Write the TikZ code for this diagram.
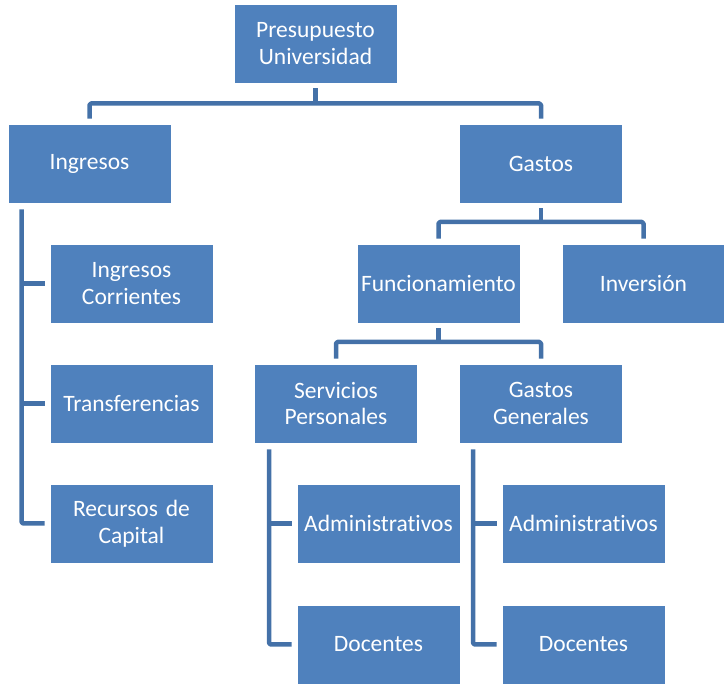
\documentclass[tikz,border=0pt]{standalone}
\usepackage{fontspec}
\setmainfont[Ligatures=NoCommon]{Carlito}
\begin{document}
\begin{tikzpicture}[x=1pt,y=-1pt,
  box/.style={rectangle,fill=boxblue,draw=white,line width=0.8pt,minimum width=163pt,minimum height=79pt,
    text width=160pt,align=center,inner sep=0pt,text=white,font=\fontsize{23.5}{26.5}\selectfont},
  conn/.style={draw=connblue,line width=4.5pt,line join=round,rounded corners=1.5pt}]
\definecolor{boxblue}{HTML}{4F81BD}
\definecolor{connblue}{HTML}{4471A8}
\useasboundingbox (0,0) rectangle (724,684);
\node[box] (P) at (315.5,43.5) {Presupuesto\\Universidad};
\node[box] (Ing) at (89.5,163.5) {Ingresos};
\node[box] (Gas) at (541,163.5) {Gastos};
\node[box] (IC) at (131.5,283.5) {Ingresos\\Corrientes};
\node[box] (Tr) at (131.5,403.5) {Transferencias};
\node[box] (RC) at (131.5,523.5) {Recursos de\\Capital};
\node[box] (Fu) at (438.5,283.5) {Funcionamiento};
\node[box] (In) at (643.5,283.5) {Inversión};
\node[box] (SP) at (336,403.5) {Servicios\\Personales};
\node[box] (GG) at (541,403.5) {Gastos\\Generales};
\node[box] (A1) at (378.5,523.5) {Administrativos};
\node[box] (D1) at (378.5,644.5) {Docentes};
\node[box] (A2) at (583.5,523.5) {Administrativos};
\node[box] (D2) at (583.5,644.5) {Docentes};
% top level
\draw[conn] ([yshift=-5pt]P.south) -- (P.south |- 0,103.5);
\draw[conn] ([yshift=5pt]Ing.north) -- (Ing.north |- 0,103.5) -| ([yshift=5pt]Gas.north);
% Gastos children
\draw[conn] ([yshift=-5pt]Gas.south) -- (Gas.south |- 0,222);
\draw[conn] ([yshift=5pt]Fu.north) -- (Fu.north |- 0,222) -| ([yshift=5pt]In.north);
% Funcionamiento children
\draw[conn] ([yshift=-5pt]Fu.south) -- (Fu.south |- 0,342);
\draw[conn] ([yshift=5pt]SP.north) -- (SP.north |- 0,342) -| ([yshift=5pt]GG.north);
% Ingresos rail
\coordinate (r1) at ([xshift=14pt,yshift=-6pt]Ing.south west);
\draw[conn] (r1) |- ([xshift=-5pt]RC.west);
\draw[conn] ([xshift=-5pt]IC.west) -- (IC.west -| r1);
\draw[conn] ([xshift=-5pt]Tr.west) -- (Tr.west -| r1);
% Servicios Personales rail
\coordinate (r2) at ([xshift=15pt,yshift=-6pt]SP.south west);
\draw[conn] (r2) |- ([xshift=-5pt]D1.west);
\draw[conn] ([xshift=-5pt]A1.west) -- (A1.west -| r2);
% Gastos Generales rail
\coordinate (r3) at ([xshift=14pt,yshift=-6pt]GG.south west);
\draw[conn] (r3) |- ([xshift=-5pt]D2.west);
\draw[conn] ([xshift=-5pt]A2.west) -- (A2.west -| r3);
\end{tikzpicture}
\end{document}
